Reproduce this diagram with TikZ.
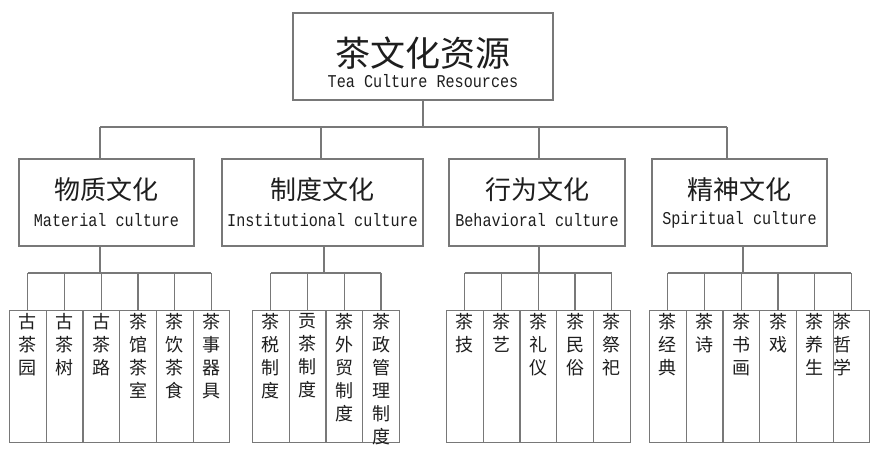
\documentclass[tikz,border=0pt]{standalone}
\usepackage{fontspec}
\newfontfamily\cjk{Noto Sans CJK SC}
\newfontfamily\monoen[FakeStretch=0.84]{Liberation Mono}
\definecolor{ln}{RGB}{120,120,120}
\definecolor{tx}{RGB}{30,30,30}
\begin{document}
\begin{tikzpicture}[x=1pt,y=-1pt,
 box/.style={draw=ln,line width=1.1pt,inner sep=0pt,minimum height=87pt},
 leaf/.style={draw=ln,line width=1.1pt,inner sep=0pt,minimum width=36.7pt,minimum height=132pt,anchor=north west},
 conn/.style={draw=ln,line width=1.1pt},
 zhbig/.style={font=\cjk\fontsize{35}{38}\selectfont,text=tx,inner sep=0pt,anchor=center},
 enbig/.style={font=\monoen\fontsize{18}{20}\selectfont,text=tx,inner sep=0pt,anchor=center},
 zh/.style={font=\cjk\fontsize{26}{30}\selectfont,text=tx,inner sep=0pt,anchor=center,yshift=12.5pt},
 en/.style={font=\monoen\fontsize{18}{20}\selectfont,text=tx,inner sep=0pt,anchor=center,yshift=-17.5pt},
 vt/.style={font=\cjk\fontsize{18}{23}\selectfont,text=tx,inner sep=0pt,align=center,anchor=north,yshift=-3pt}
]
\useasboundingbox (0,0) rectangle (880,458);
\fill[white] (0,0) rectangle (880,458);

% root
\node[box,minimum width=260pt,
  label={[zhbig,yshift=3pt]center:茶文化资源},
  label={[enbig,yshift=-25pt]center:Tea Culture Resources}] (root) at (423,56.5) {};

% level 2
\node[box,minimum width=175pt,label={[zh]center:物质文化},label={[en]center:Material culture}] (m1) at (106.5,202.5) {};
\node[box,minimum width=201pt,label={[zh]center:制度文化},label={[en]center:Institutional culture}] (m2) at (322.5,202.5) {};
\node[box,minimum width=176pt,label={[zh]center:行为文化},label={[en]center:Behavioral culture}] (m3) at (537,202.5) {};
\node[box,minimum width=175pt,label={[zh]center:精神文化},label={[en]center:Spiritual culture}] (m4) at (739.5,202.5) {};

% top bus
\coordinate (t1) at (100,127);
\coordinate (t2) at (321,127);
\coordinate (t3) at (539,127);
\coordinate (t4) at (727,127);
\draw[conn] (root.south) -- (root.south |- t1);
\draw[conn] (t1) -- (t4);
\draw[conn] (t1) -- (t1 |- m1.north);
\draw[conn] (t2) -- (t2 |- m2.north);
\draw[conn] (t3) -- (t3 |- m3.north);
\draw[conn] (t4) -- (t4 |- m4.north);

% leaves
\foreach \t [count=\i] in {{古\\茶\\园},{古\\茶\\树},{古\\茶\\路},{茶\\馆\\茶\\室},{茶\\饮\\茶\\食},{茶\\事\\器\\具}}
  \node[leaf,label={[vt]north:{\t}}] (a\i) at ({9+(\i-1)*36.7},310) {};
\foreach \t [count=\i] in {{茶\\税\\制\\度},{贡\\茶\\制\\度},{茶\\外\\贸\\制\\度},{茶\\政\\管\\理\\制\\度}}
  \node[leaf,label={[vt]north:{\t}}] (b\i) at ({252+(\i-1)*36.7},310) {};
\foreach \t [count=\i] in {{茶\\技},{茶\\艺},{茶\\礼\\仪},{茶\\民\\俗},{茶\\祭\\祀}}
  \node[leaf,label={[vt]north:{\t}}] (c\i) at ({446+(\i-1)*36.7},310) {};
\foreach \t [count=\i] in {{茶\\经\\典},{茶\\诗},{茶\\书\\画},{茶\\戏},{茶\\养\\生}}
  \node[leaf,label={[vt]north:{\t}}] (d\i) at ({649+(\i-1)*36.7},310) {};
\node[leaf,label={[vt,xshift=-9pt]north:{茶\\哲\\学}}] (d6) at ({649+5*36.7},310) {};

% lower buses
\coordinate (g1) at (100,273);
\coordinate (g2) at (324,273);
\coordinate (g3) at (539,273);
\coordinate (g4) at (743,273);
\draw[conn] (g1 |- m1.south) -- (g1);
\draw[conn] (g2 |- m2.south) -- (g2);
\draw[conn] (g3 |- m3.south) -- (g3);
\draw[conn] (g4 |- m4.south) -- (g4);
\draw[conn] (a1.north |- g1) -- (a6.north |- g1);
\draw[conn] (b1.north |- g2) -- (b4.north |- g2);
\draw[conn] (c1.north |- g3) -- (c5.north |- g3);
\draw[conn] (d1.north |- g4) -- (d6.north |- g4);
\foreach \i in {1,...,6} \draw[conn] (a\i.north) -- (a\i.north |- g1);
\foreach \i in {1,...,4} \draw[conn] (b\i.north) -- (b\i.north |- g2);
\foreach \i in {1,...,5} \draw[conn] (c\i.north) -- (c\i.north |- g3);
\foreach \i in {1,...,6} \draw[conn] (d\i.north) -- (d\i.north |- g4);
\end{tikzpicture}
\end{document}
